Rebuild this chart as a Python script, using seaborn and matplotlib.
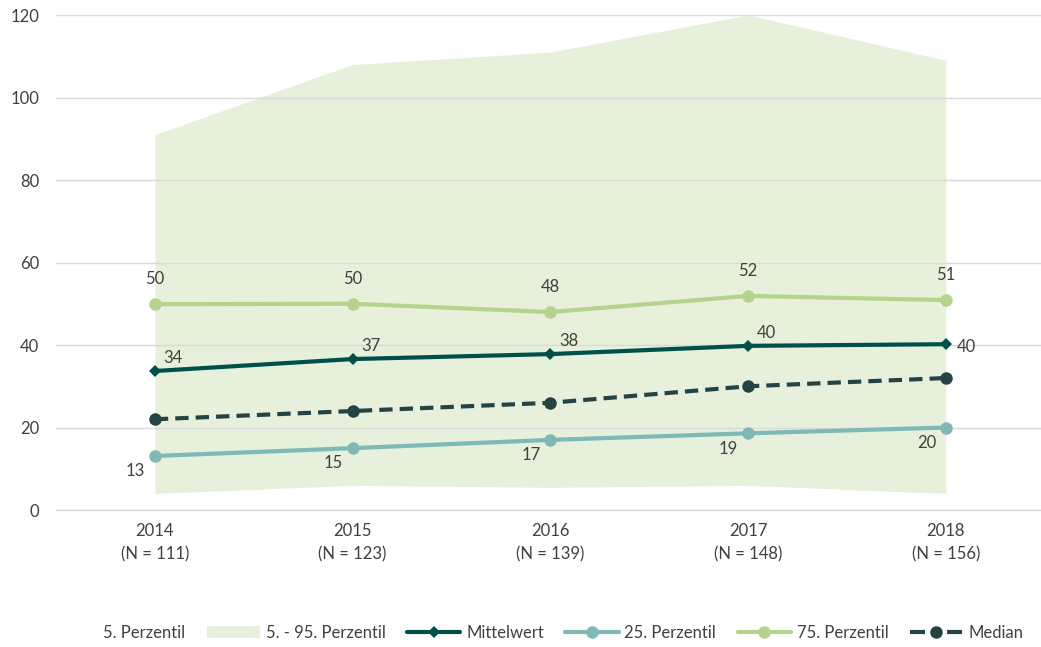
import numpy as np
import pandas as pd
import matplotlib
matplotlib.use("Agg")
import matplotlib.pyplot as plt
from matplotlib.lines import Line2D
from matplotlib.patches import Patch
import seaborn as sns

# Survey years and sample sizes
years = ["2014", "2015", "2016", "2017", "2018"]
sample_sizes = [111, 123, 139, 148, 156]

# Percentile band (5th to 95th)
p05 = [4, 6, 5.5, 6, 4]
p95 = [91, 108, 111, 120, 109]

# Series values
mean_vals = [33.7, 36.6, 37.8, 39.8, 40.2]
p25 = [13.1, 15.0, 17.0, 18.6, 20.0]
p75 = [49.9, 50.0, 48.0, 51.9, 50.9]
median_vals = [22, 24, 26, 30, 32]

y_ticks = [0, 20, 40, 60, 80, 100, 120]

sns.set_theme(style="white")
plt.rcParams["font.family"] = ["Lato", "DejaVu Sans"]

TEXT = "#404040"
BAND = "#E6F0DA"
C_MEAN = "#00504A"
C_P25 = "#7FB8B4"
C_P75 = "#B3D48A"
C_MED = "#244444"
GRID = "#D9D9D9"
FS = 12

x = np.arange(len(years))
df = pd.DataFrame({
    "x": x, "mean": mean_vals, "p25": p25, "p75": p75, "median": median_vals,
})

fig = plt.figure(figsize=(10.41, 6.47), dpi=100)
ax = fig.add_axes([0.0538, 0.2117, 0.9498, 0.7651])

# 5th-95th percentile band
ax.fill_between(x, p05, p95, color=BAND, linewidth=0, zorder=0.3)

sns.lineplot(data=df, x="x", y="p75", ax=ax, color=C_P75, linewidth=3,
             marker="o", markersize=9, markeredgewidth=0, zorder=3)
sns.lineplot(data=df, x="x", y="mean", ax=ax, color=C_MEAN, linewidth=3,
             marker="D", markersize=6.5, markeredgewidth=0, zorder=4)
sns.lineplot(data=df, x="x", y="median", ax=ax, color=C_MED, linewidth=3,
             linestyle=(0, (3.2, 1.7)), marker="o", markersize=9,
             markeredgewidth=0, zorder=3)
sns.lineplot(data=df, x="x", y="p25", ax=ax, color=C_P25, linewidth=3,
             marker="o", markersize=9, markeredgewidth=0, zorder=3)

# Value labels
for xi, v in zip(x, p75):
    ax.annotate(f"{v:.0f}", (xi, v), xytext=(0, 18), textcoords="offset points",
                ha="center", va="center", fontsize=FS, color=TEXT)
for i, (xi, v) in enumerate(zip(x, mean_vals)):
    off = (15, -2) if i == len(x) - 1 else (13, 9.5)
    ax.annotate(f"{v:.0f}", (xi, v), xytext=off, textcoords="offset points",
                ha="center", va="center", fontsize=FS, color=TEXT)
for xi, v in zip(x, p25):
    ax.annotate(f"{v:.0f}", (xi, v), xytext=(-14, -11), textcoords="offset points",
                ha="center", va="center", fontsize=FS, color=TEXT)

# Axes styling
ax.set_xlim(-0.5, len(years) - 0.5)
ax.set_ylim(0, 120)
ax.set_yticks(y_ticks)
ax.set_xticks(x)
ax.set_xticklabels([f"{y}\n(N = {n})" for y, n in zip(years, sample_sizes)],
                   linespacing=1.6)
ax.tick_params(axis="y", length=0, pad=12, labelsize=FS, labelcolor=TEXT)
ax.tick_params(axis="x", length=0, pad=9, labelsize=FS, labelcolor=TEXT)
ax.set_xlabel("")
ax.set_ylabel("")
ax.set_axisbelow(True)
ax.yaxis.grid(True, color=GRID, linewidth=1)
ax.xaxis.grid(False)
for s in ["top", "right", "left"]:
    ax.spines[s].set_visible(False)
ax.spines["bottom"].set_color(GRID)
ax.spines["bottom"].set_linewidth(1)

# Legend
handles = [
    Patch(facecolor="none", edgecolor="none"),
    Patch(facecolor=BAND, edgecolor="none"),
    Line2D([], [], color=C_MEAN, linewidth=3, marker="D", markersize=6.5, markeredgewidth=0),
    Line2D([], [], color=C_P25, linewidth=3, marker="o", markersize=9, markeredgewidth=0),
    Line2D([], [], color=C_P75, linewidth=3, marker="o", markersize=9, markeredgewidth=0),
    Line2D([], [], color=C_MED, linewidth=3, linestyle=(0, (3.6, 5.3)), marker="o",
           markersize=9, markeredgewidth=0),
]
labels = ["5. Perzentil", "5. - 95. Perzentil", "Mittelwert", "25. Perzentil",
          "75. Perzentil", "Median"]
leg = fig.legend(handles, labels, loc="center", bbox_to_anchor=(0.513, 0.0216),
                 ncol=6, frameon=False, fontsize=FS, handlelength=3.2,
                 handletextpad=0.35, columnspacing=1.28, labelcolor=TEXT)

fig.savefig("out.png", dpi=100)
